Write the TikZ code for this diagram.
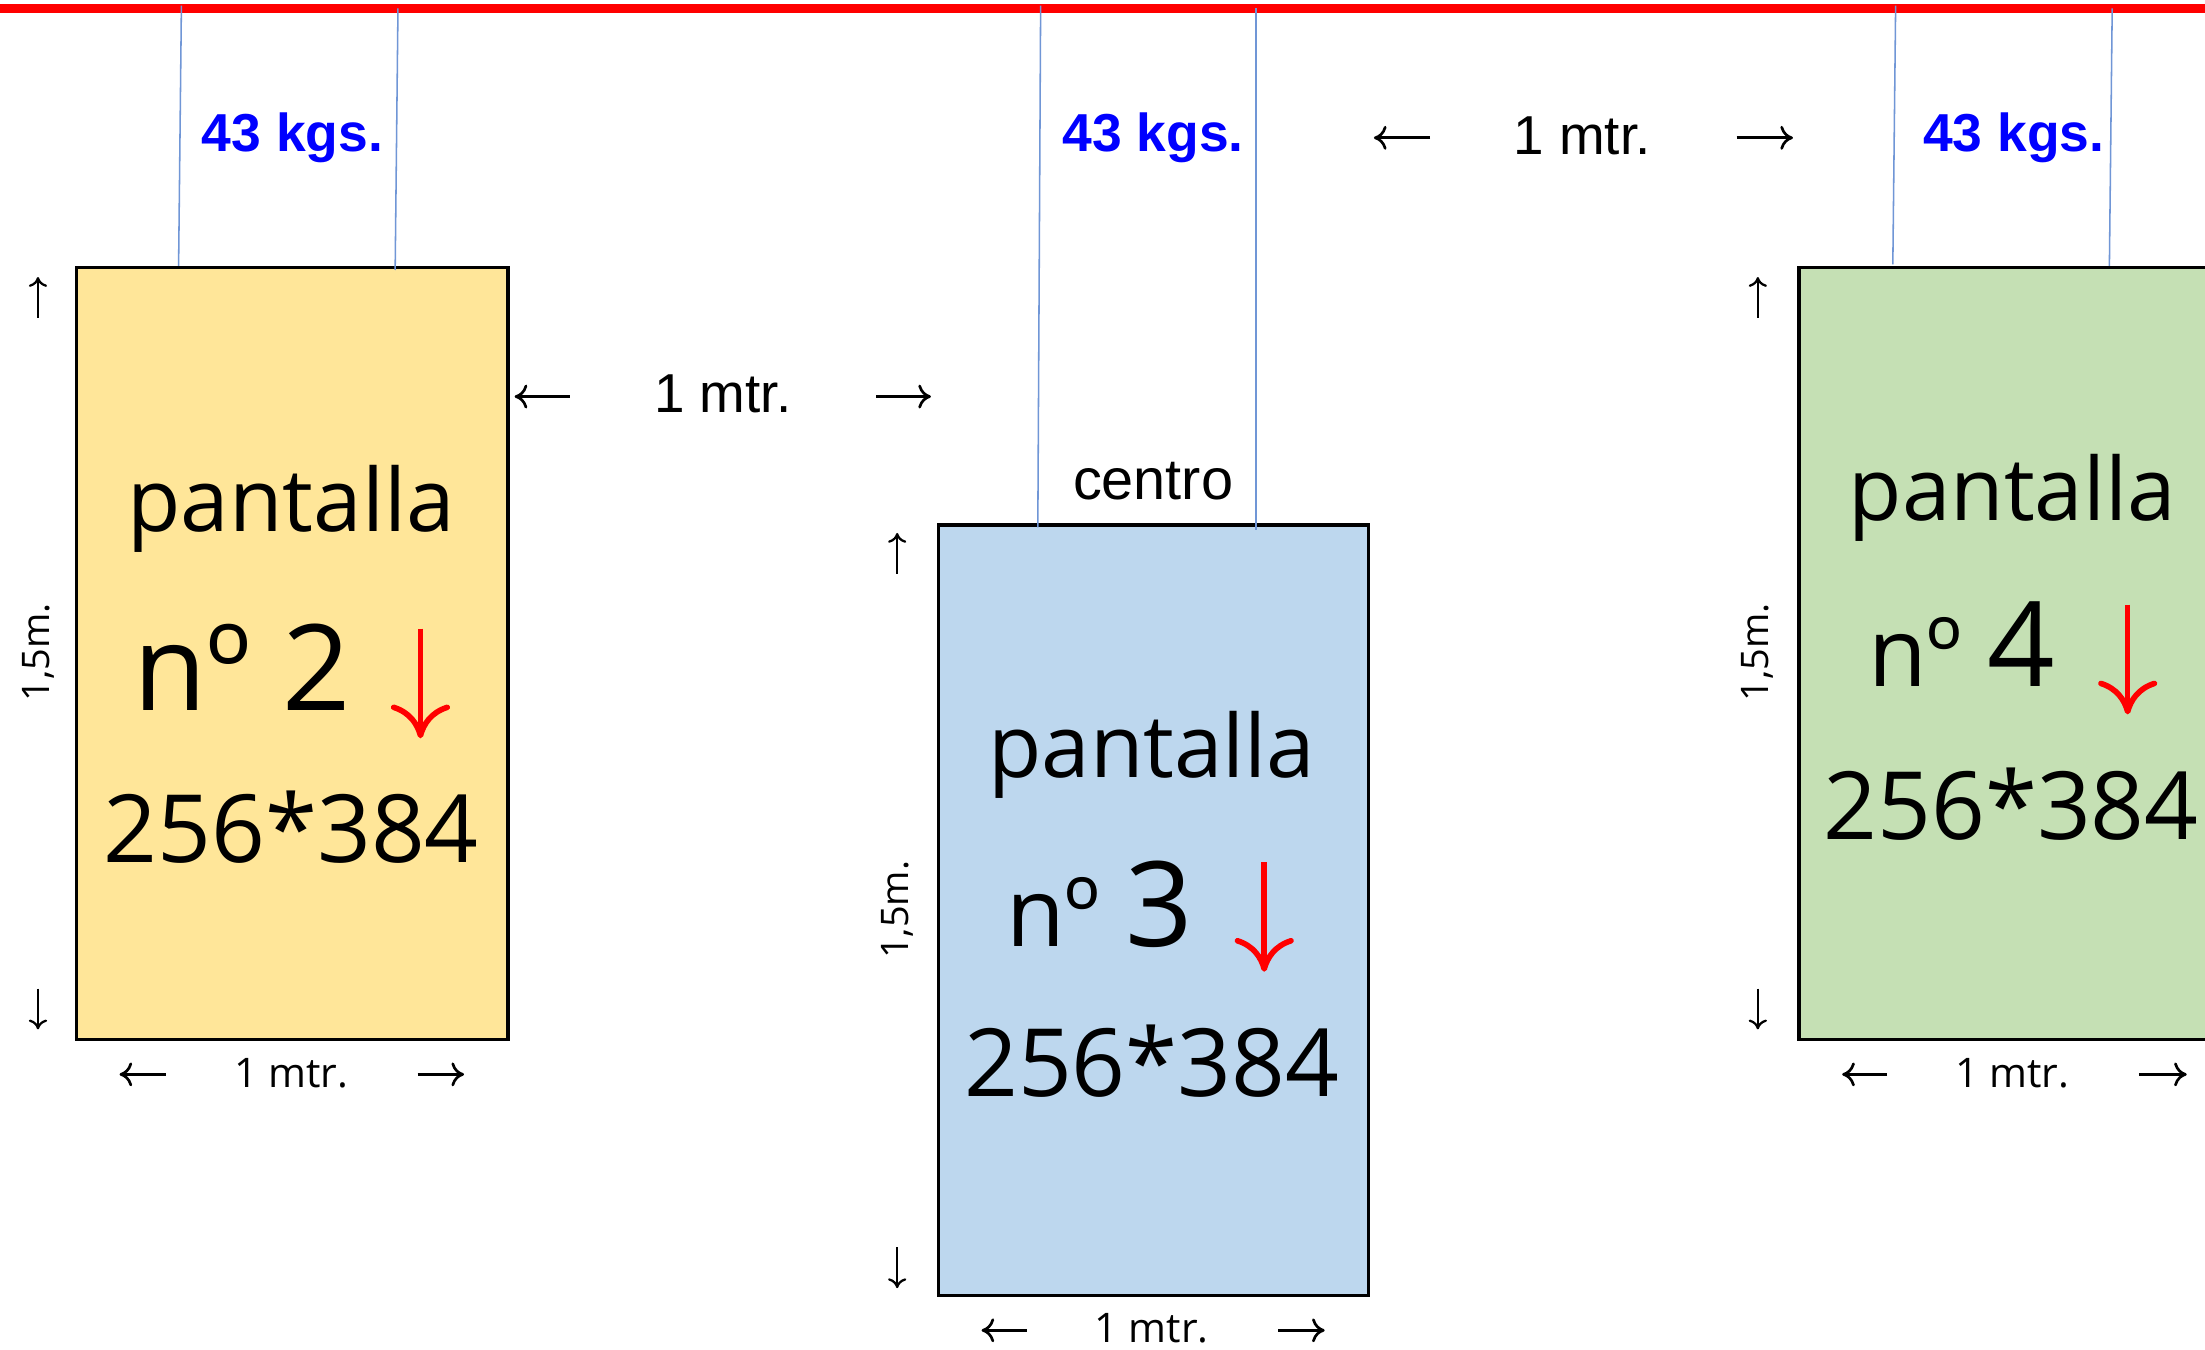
\documentclass[tikz,border=0pt]{standalone}
\usepackage{fontspec}
\setmainfont{Open Sans}
\newfontfamily\arialf{Liberation Sans}
\usetikzlibrary{arrows.meta,calc}
\definecolor{yel}{HTML}{FFE699}
\definecolor{blu}{HTML}{BDD7EE}
\definecolor{grn}{HTML}{C5E0B4}
\definecolor{hangc}{HTML}{7096D6}
\newcommand{\fsz}[1]{\fontsize{#1}{#1}\selectfont}
\begin{document}
\begin{tikzpicture}[x=1pt,y=-1pt,
 screen/.style={draw=black,line width=2.4pt,inner sep=0pt,anchor=north west,minimum width=307pt,minimum height=549pt},
 hang/.style={draw=hangc,line width=1.1pt},
 bar/.style={draw=red,line width=6pt},
 dimh/.style={draw=black,line width=1.9pt,-{Computer Modern Rightarrow[length=9pt,width=17pt]}},
 dimv/.style={draw=black,line width=1.6pt,-{Computer Modern Rightarrow[length=7pt,width=13pt]}},
 redarr/.style={draw=red,line width=4pt,-{Computer Modern Rightarrow[length=24pt,width=42pt]}},
 lbl/.style={inner sep=0pt,anchor=base},
 kg/.style={lbl,text=blue,font=\arialf\bfseries\fsz{38}},
 topm/.style={lbl,font=\arialf\fsz{39}},
 botm/.style={lbl,font=\fsz{29}},
 side/.style={inner sep=0pt,anchor=center,rotate=90,font=\fsz{27}},
 pant/.style={lbl,font=\fsz{62}},
 dims/.style={lbl,font=\fsz{67}}]
\useasboundingbox (0,0) rectangle (1568,960);
\clip (0,0) rectangle (1568,960);
\fill[white] (0,0) rectangle (1568,960);

% red ceiling bar
\coordinate (barL) at (0,6);
\coordinate (barR) at (1568,6);
\draw[bar] (barL) -- (barR);

% screens
\node[screen,fill=yel] (s2) at (53,189) {};
\node[screen,fill=blu,minimum width=306pt,minimum height=548pt] (s3) at (666,372) {};
\node[screen,fill=grn] (s4) at (1278,189) {};

% hanging cables
\coordinate (c2a) at (129,4); \coordinate (c2b) at (283,6);
\coordinate (c3a) at (740,4); \coordinate (c3b) at (893,6);
\coordinate (c4a) at (1348,4); \coordinate (c4b) at (1502,6);
\draw[hang] (c2a) -- ($(s2.north west)+(74,0)$);
\draw[hang] (c2b) -- ($(s2.north west)+(228,3)$);
\draw[hang] (c3a) -- ($(s3.north west)+(72,3)$);
\draw[hang] (c3b) -- ($(s3.north west)+(227,5)$);
\draw[hang] (c4a) -- ($(s4.north west)+(68,-1)$);
\draw[hang] (c4b) -- ($(s4.north west)+(222,0)$);

% weights
\node[kg] (k2) at (208,108) {43 kgs.};
\node[kg] (k3) at (820,108) {43 kgs.};
\node[kg] (k4) at (1432,108) {43 kgs.};

% gaps
\node[topm] (g1) at (514,293) {1 mtr.};
\draw[dimh] (405,282) -- (366,282);
\draw[dimh] (623,282) -- (662,282);
\node[topm] (g2) at (1125,110) {1 mtr.};
\draw[dimh] (1017,98) -- (977,98);
\draw[dimh] (1235,98) -- (1275,98);

\node[lbl,font=\arialf\fsz{41}] (cen) at (820,355) {centro};

% screen 2
\node[pant] (p2) at (207,378) {pantalla};
\node[lbl,font=\fsz{85}] (n2) at (172,505) {nº 2};
\node[dims] (d2) at (207,613) {256*384};
\draw[redarr] (299,447) -- (299,525);
\node[side] (h2) at (27,464) {1,5m.};
\draw[dimv] (27,226) -- (27,197);
\draw[dimv] (27,703) -- (27,732);
\node[botm] (w2) at (207,773) {1 mtr.};
\draw[dimh] (118,764) -- (85,764);
\draw[dimh] (297,764) -- (330,764);

% screen 3
\node[pant] (p3) at (819,553) {pantalla};
\node[lbl] (n3) at (782,673) {\fsz{68}nº \fsz{84}3};
\node[dims] (d3) at (819,780) {256*384};
\draw[redarr] (899,613) -- (899,691);
\node[side] (h3) at (638,647) {1,5m.};
\draw[dimv] (638,408) -- (638,379);
\draw[dimv] (638,887) -- (638,916);
\node[botm] (w3) at (819,955) {1 mtr.};
\draw[dimh] (730,946) -- (698,946);
\draw[dimh] (909,946) -- (942,946);

% screen 4
\node[pant] (p4) at (1431,370) {pantalla};
\node[lbl] (n4) at (1395,488) {\fsz{68}nº \fsz{84}4};
\node[dims] (d4) at (1430,597) {256*384};
\draw[redarr] (1513,430) -- (1513,508);
\node[side] (h4) at (1250,464) {1,5m.};
\draw[dimv] (1250,226) -- (1250,197);
\draw[dimv] (1250,703) -- (1250,732);
\node[botm] (w4) at (1431,773) {1 mtr.};
\draw[dimh] (1342,764) -- (1310,764);
\draw[dimh] (1521,764) -- (1555,764);
\end{tikzpicture}
\end{document}
